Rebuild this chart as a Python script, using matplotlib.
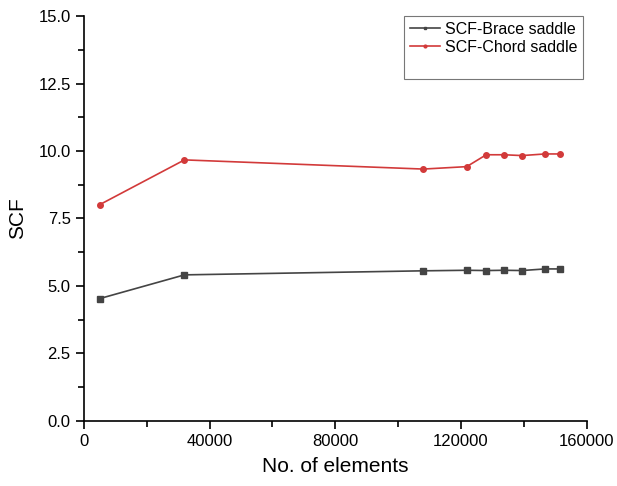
import matplotlib
matplotlib.use('Agg')
import matplotlib.pyplot as plt
from matplotlib.lines import Line2D
from matplotlib.ticker import MultipleLocator

plt.rcParams['font.family'] = ['Liberation Sans', 'DejaVu Sans']

# Mesh sizes (number of elements) and SCF values
elements = [5000, 32000, 108000, 121800, 128000, 133700, 139400, 146700, 151600]
scf_brace = [4.53, 5.41, 5.56, 5.58, 5.57, 5.58, 5.57, 5.63, 5.63]
scf_chord = [8.01, 9.67, 9.33, 9.42, 9.86, 9.86, 9.83, 9.89, 9.89]

BRACE_COLOR = '#444444'
CHORD_COLOR = '#d23a3a'

fig = plt.figure(figsize=(6.17, 4.86), dpi=100)
ax = fig.add_axes([0.136, 0.134, 0.815, 0.833])

ax.plot(elements, scf_brace, color=BRACE_COLOR, lw=1.2, marker='s', ms=4,
        label='SCF-Brace saddle')
ax.plot(elements, scf_chord, color=CHORD_COLOR, lw=1.2, marker='o', ms=4,
        label='SCF-Chord saddle')

ax.set_xlim(0, 160000)
ax.set_ylim(0, 15)
ax.xaxis.set_major_locator(MultipleLocator(40000))
ax.xaxis.set_minor_locator(MultipleLocator(20000))
ax.yaxis.set_major_locator(MultipleLocator(2.5))
ax.yaxis.set_minor_locator(MultipleLocator(1.25))
ax.yaxis.set_major_formatter(matplotlib.ticker.FormatStrFormatter('%.1f'))

for side in ('top', 'right'):
    ax.spines[side].set_visible(False)
for side in ('left', 'bottom'):
    ax.spines[side].set_linewidth(1.2)
ax.tick_params(which='major', direction='out', length=6, width=1.2, labelsize=12)
ax.tick_params(which='minor', direction='out', length=4, width=1.2)

ax.set_xlabel('No. of elements', fontsize=15, labelpad=6)
ax.set_ylabel('SCF', fontsize=15, labelpad=8)

# Origin-style legend: small markers and an empty row at the bottom
handles = [Line2D([], [], color=BRACE_COLOR, lw=1.2, marker='s', ms=2),
           Line2D([], [], color=CHORD_COLOR, lw=1.2, marker='o', ms=2),
           Line2D([], [], color='none')]
labels = ['SCF-Brace saddle', 'SCF-Chord saddle', ' ']
leg = ax.legend(handles, labels, loc='upper right', fontsize=11.5,
                frameon=True, fancybox=False, edgecolor='#555555',
                handlelength=1.9, handletextpad=0.3, labelspacing=0.2,
                borderpad=0.35, borderaxespad=0.0,
                bbox_to_anchor=(0.993, 1.0))
leg.get_frame().set_linewidth(0.8)

fig.savefig('out.png', dpi=100)
